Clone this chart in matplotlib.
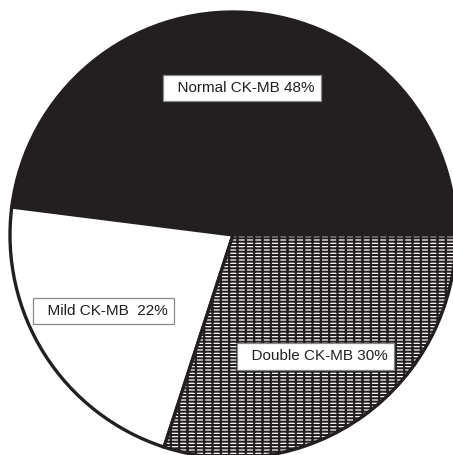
import matplotlib
matplotlib.use("Agg")
import matplotlib.pyplot as plt

categories = ["Normal CK-MB", "Mild CK-MB ", "Double CK-MB"]
values = [48, 22, 30]

plt.rcParams['font.family'] = ['Liberation Sans', 'DejaVu Sans']
plt.rcParams['hatch.linewidth'] = 1.5

W, H = 453, 455
fig = plt.figure(figsize=(W / 100, H / 100), dpi=100)
ax = fig.add_axes([0, 0, 1, 1])
ax.set_xlim(0, W)
ax.set_ylim(0, H)
ax.set_aspect('equal')
ax.axis('off')

wedges, _ = ax.pie(values, startangle=0, counterclock=True,
                   center=(233, H - 235), radius=223,
                   colors=['#231f20', 'white', 'white'],
                   wedgeprops=dict(edgecolor='#231f20', linewidth=2.4))
wedges[2].set_hatch('-----||')
ax.set_xlim(0, W)
ax.set_ylim(0, H)

label_pos = [(178, H - 88), (48, H - 311), (252, H - 356.5)]
for (x, y), name, v in zip(label_pos, categories, values):
    ax.text(x - 9, y, f"  {name} {v}%", ha='left', va='center', fontsize=11,
            color='#231f20',
            bbox=dict(boxstyle='square,pad=0.4', fc='white', ec='#888888', lw=0.9))

fig.savefig('out.png', dpi=100)
